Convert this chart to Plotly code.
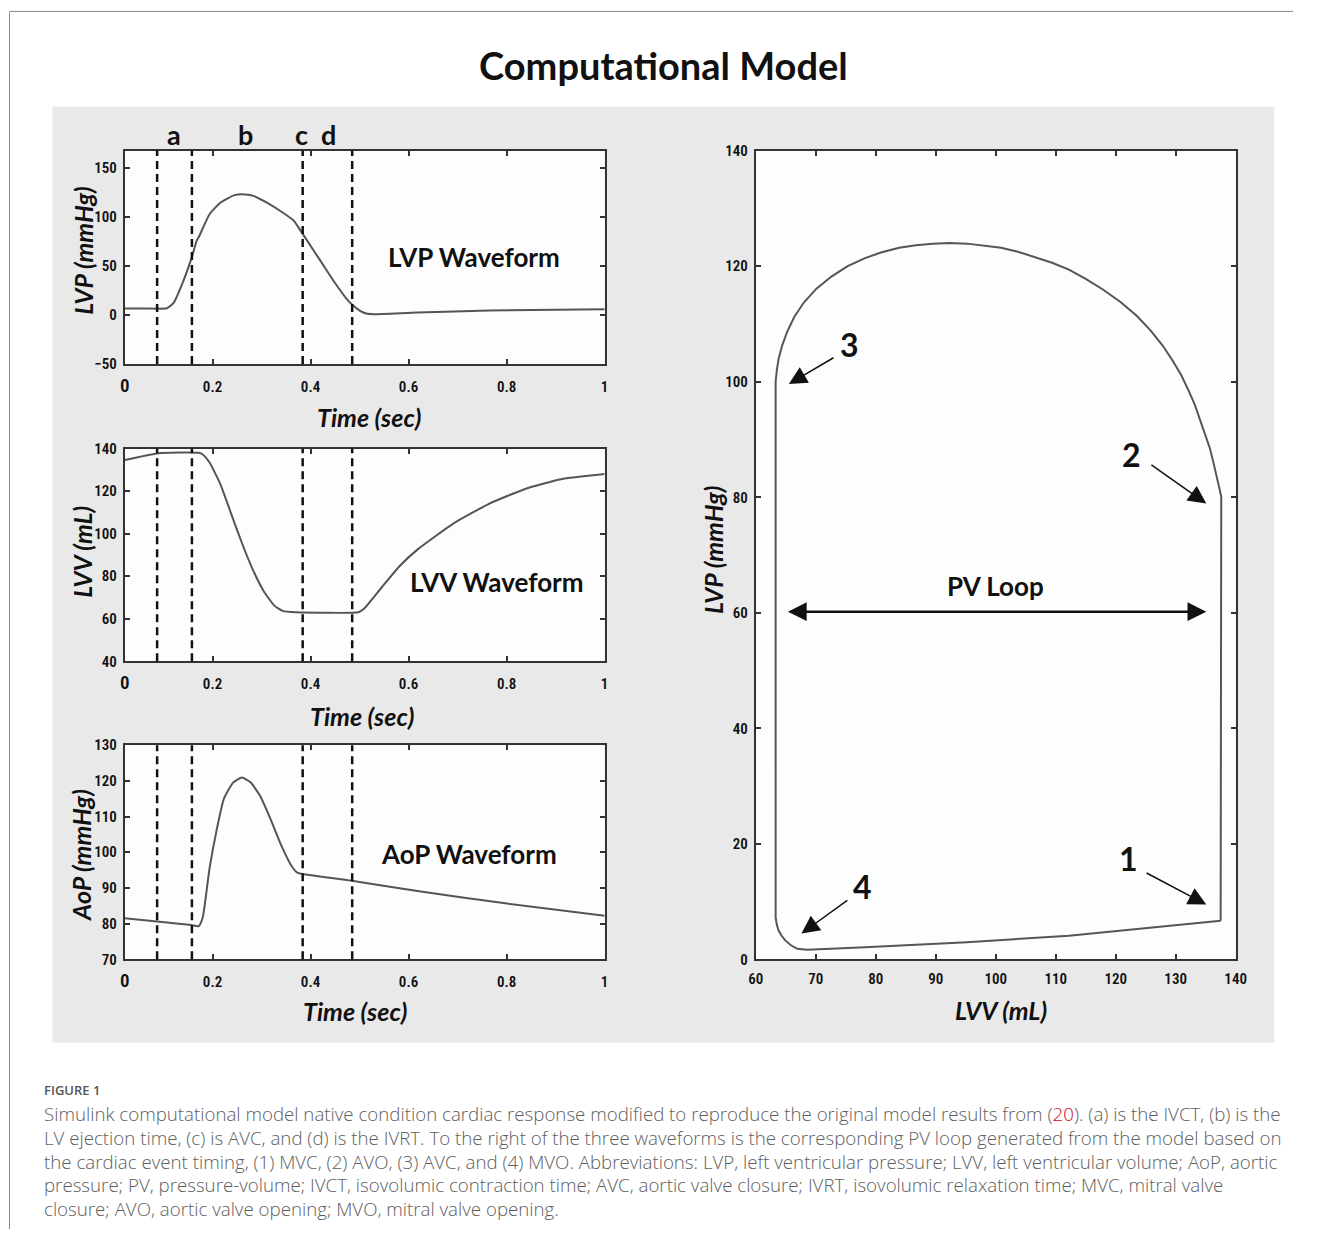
import plotly.graph_objects as go

# page is 1320x1254; the browser's default 8px body margin surrounds the figure
PAGE_MARGIN = 8
W, H = 1320 - 2 * PAGE_MARGIN, 1254 - 2 * PAGE_MARGIN

# ---------------- data ----------------
time_axis_start = 0.021
time_tick_vals = [0.021, 0.2, 0.4, 0.6, 0.8, 1.0]
time_tick_text = ['<span style="font-size:19px">0</span>', "0.2", "0.4", "0.6", "0.8", "1"]

t_lvp = [0.021, 0.060, 0.107, 0.121, 0.139, 0.157, 0.168, 0.172, 0.194, 0.216, 0.245,
         0.267, 0.285, 0.311, 0.340, 0.366, 0.373, 0.384, 0.406, 0.428, 0.450, 0.472,
         0.484, 0.501, 0.516, 0.531, 0.618, 0.765, 1.0]
lvp = [6.7, 6.8, 7.0, 12.7, 32.8, 57.9, 76.3, 79.7, 103.0, 114.8, 122.5,
       123.2, 121.5, 114.8, 105.8, 96.4, 91.4, 83.0, 66.3, 49.5, 32.8, 17.7,
       11.0, 4.4, 1.3, 1.0, 2.7, 4.7, 6.0]

t_lvv = [0.021, 0.087, 0.172, 0.180, 0.194, 0.216, 0.238, 0.260, 0.282, 0.304, 0.326,
         0.344, 0.370, 0.498, 0.509, 0.545, 0.582, 0.618, 0.692, 0.765, 0.838, 0.911, 1.0]
lvv = [134.6, 137.7, 138.0, 137.2, 133.4, 123.3, 109.4, 95.6, 83.2, 73.2, 66.2,
       63.6, 63.1, 63.1, 64.7, 74.7, 84.8, 92.5, 104.8, 114.1, 121.0, 125.6, 128.0]

t_aop = [0.021, 0.107, 0.157, 0.172, 0.180, 0.194, 0.209, 0.223, 0.242, 0.260, 0.278,
         0.297, 0.318, 0.340, 0.362, 0.373, 0.384, 0.484, 0.618, 0.801, 1.0]
aop = [81.5, 80.3, 79.6, 79.3, 81.7, 95.5, 106.6, 114.9, 119.5, 120.9, 119.5,
       115.8, 109.4, 102.0, 96.0, 94.3, 93.9, 92.0, 89.1, 85.6, 82.2]

# PV loop, traced around from mitral valve closure (bottom right)
pv_volume = [137.5, 137.6, 137.3, 137.0, 136.7, 136.3, 135.7, 134.9, 134.1, 133.2, 132.1,
             130.9, 129.4, 127.8, 125.8, 123.5, 120.8, 117.8, 115.0, 112.2, 109.4, 106.5,
             103.7, 100.9, 98.0, 95.2, 92.3, 89.5, 86.7, 83.9, 81.0, 78.2, 75.3, 72.6,
             70.1, 68.0, 66.4, 65.2, 64.4, 63.8, 63.5, 63.3, 63.3, 63.5, 63.8, 64.3, 64.9,
             65.8, 66.9, 68.6, 78.2, 95.2, 112.2, 129.1, 137.5]
pv_pressure = [6.7, 80.1, 81.5, 83.0, 84.5, 86.0, 88.5, 91.0, 93.5, 96.0, 98.6,
               101.2, 103.8, 106.3, 108.9, 111.4, 113.8, 116.0, 117.8, 119.4, 120.6, 121.6,
               122.5, 123.2, 123.6, 123.9, 124.0, 123.9, 123.6, 123.2, 122.4, 121.4, 120.0, 118.2,
               116.1, 113.7, 111.2, 108.6, 106.3, 104.0, 102.0, 100.0, 7.3, 6.0, 5.0, 4.1, 3.3,
               2.5, 1.85, 1.7, 2.1, 3.0, 4.1, 5.8, 6.7]

event_times = [0.087, 0.158, 0.384, 0.485]
event_labels = ["a", "b", "c", "d"]
event_label_times = [0.121, 0.267, 0.382, 0.437]

lvp_ticks = [-50, 0, 50, 100, 150]
lvv_ticks = [40, 60, 80, 100, 120, 140]
aop_ticks = [70, 80, 90, 100, 110, 120, 130]
pv_x_ticks = [60, 70, 80, 90, 100, 110, 120, 130, 140]
pv_y_ticks = [0, 20, 40, 60, 80, 100, 120, 140]

# PV loop markers: label, text position (V, P), arrow tail (V, P), arrow tip (V, P)
pv_markers = [
    ("1", (122.1, 17.5), (124.9, 15.1), (135.1, 9.5)),
    ("2", (122.7, 87.4), (125.7, 85.8), (135.1, 78.9)),
    ("3", (75.6, 106.4), (73.2, 104.3), (65.5, 99.6)),
    ("4", (77.8, 12.7), (75.5, 10.4), (67.6, 4.5)),
]

caption_lines = [
    "Simulink computational model native condition cardiac response modified to reproduce the original model results from (<span style='color:#d0021b'>20</span>). (a) is the IVCT, (b) is the",
    "LV ejection time, (c) is AVC, and (d) is the IVRT. To the right of the three waveforms is the corresponding PV loop generated from the model based on",
    "the cardiac event timing, (1) MVC, (2) AVO, (3) AVC, and (4) MVO. Abbreviations: LVP, left ventricular pressure; LVV, left ventricular volume; AoP, aortic",
    "pressure; PV, pressure-volume; IVCT, isovolumic contraction time; AVC, aortic valve closure; IVRT, isovolumic relaxation time; MVC, mitral valve",
    "closure; AVO, aortic valve opening; MVO, mitral valve opening.",
]

# ---------------- layout helpers (page pixel -> paper fraction) ----------------
def px_x(p):
    return (p - PAGE_MARGIN) / W


def px_y(p):
    return 1 - (p - PAGE_MARGIN) / H


LBL = "Lato, 'Open Sans', sans-serif"
TICKF = dict(family="'Liberation Sans Narrow', 'Roboto Condensed', Roboto, sans-serif", size=15,
             color="#111111", weight=600)
FRAME = "#333333"
CURVE = "#555555"

left_dom = [px_x(126.5), px_x(613.4)]
dom_lvp = [px_y(368.3), px_y(151.7)]
dom_lvv = [px_y(670), px_y(454)]
dom_aop = [px_y(972.3), px_y(755)]
pv_xdom = [px_x(766.9), px_x(1253.8)]
pv_ydom = [px_y(972.5), px_y(151.7)]


def xax(domain, anchor, rng, tv, tt, standoff):
    return dict(domain=domain, anchor=anchor, range=rng, tickvals=tv, ticktext=tt,
                showline=True, mirror="ticks", linecolor=FRAME, linewidth=2,
                ticks="inside", ticklen=5, tickwidth=1.5, tickcolor=FRAME,
                showgrid=False, zeroline=False, tickfont=TICKF,
                ticklabelstandoff=standoff, fixedrange=True)


def yax(domain, anchor, rng, tv, standoff=3):
    return dict(domain=domain, anchor=anchor, range=rng, tickvals=tv,
                showline=True, mirror="ticks", linecolor=FRAME, linewidth=2,
                ticks="inside", ticklen=5, tickwidth=1.5, tickcolor=FRAME,
                showgrid=False, zeroline=False, tickfont=TICKF,
                ticklabelstandoff=standoff, fixedrange=True)


fig = go.Figure()
line_style = dict(color=CURVE, width=2, shape="spline", smoothing=0.5)
fig.add_trace(go.Scatter(x=t_lvp, y=lvp, mode="lines", line=line_style, xaxis="x", yaxis="y", showlegend=False))
fig.add_trace(go.Scatter(x=t_lvv, y=lvv, mode="lines", line=line_style, xaxis="x2", yaxis="y2", showlegend=False))
fig.add_trace(go.Scatter(x=t_aop, y=aop, mode="lines", line=line_style, xaxis="x3", yaxis="y3", showlegend=False))
fig.add_trace(go.Scatter(x=pv_volume, y=pv_pressure, mode="lines",
                         line=dict(color=CURVE, width=2),
                         xaxis="x4", yaxis="y4", showlegend=False))

shapes = [
    # grey picture panel
    dict(type="rect", xref="paper", yref="paper", x0=px_x(53), x1=px_x(1293), y0=px_y(1057), y1=px_y(107),
         fillcolor="#e9e9e9", line=dict(width=0), layer="below"),
    # outer thin frame
    dict(type="line", xref="paper", yref="paper", x0=px_x(10), x1=1, y0=px_y(10.5), y1=px_y(10.5),
         line=dict(color="#8a8a8a", width=1)),
    dict(type="line", xref="paper", yref="paper", x0=px_x(9.5), x1=px_x(9.5), y0=0, y1=px_y(10.5),
         line=dict(color="#8a8a8a", width=1)),
]
# white plotting areas
for xr, yr in [("x", "y"), ("x2", "y2"), ("x3", "y3"), ("x4", "y4")]:
    shapes.append(dict(type="rect", xref=xr + " domain", yref=yr + " domain", x0=0, x1=1, y0=0, y1=1,
                       fillcolor="#fdfdfd", line=dict(width=0), layer="below"))
for xr, yr in [("x", "y"), ("x2", "y2"), ("x3", "y3")]:
    for t in event_times:
        shapes.append(dict(type="line", xref=xr, yref=yr + " domain", x0=t, x1=t, y0=0, y1=1,
                           line=dict(color="#111111", width=2.5, dash="8px,5px")))

ann = []


def paper_text(text, x, y, font, angle=0, xanchor="center"):
    ann.append(dict(text=text, xref="paper", yref="paper", x=px_x(x), y=px_y(y), showarrow=False,
                    xanchor=xanchor, yanchor="middle", textangle=angle, font=font))


paper_text("<b>Computational Model</b>", 673, 65, dict(family=LBL, size=38, color="#111"))
for lab, t in zip(event_labels, event_label_times):
    ann.append(dict(text="<b>%s</b>" % lab, xref="x", yref="paper", x=t, y=px_y(135),
                    xanchor="center", yanchor="middle",
                    showarrow=False, font=dict(family=LBL, size=27, color="#111")))

wf = dict(family=LBL, size=26, color="#111")
for txt, xr, yr, x, y in [("<b>LVP Waveform</b>", "x", "y", 0.734, 59),
                          ("<b>LVV Waveform</b>", "x2", "y2", 0.780, 77.5),
                          ("<b>AoP Waveform</b>", "x3", "y3", 0.724, 99.6),
                          ("<b>PV Loop</b>", "x4", "y4", 100, 64.7)]:
    ann.append(dict(text=txt, xref=xr, yref=yr, x=x, y=y, showarrow=False,
                    xanchor="center", yanchor="middle", font=wf))

# axis titles
titlef = dict(family=LBL, size=25, color="#111", style="italic", weight="bold")
for txt, x, y in [("Time (sec)", 374.4, 421.7), ("Time (sec)", 367, 725), ("Time (sec)", 360, 1025),
                  ("LVV (mL)", 1015.5, 1023.3)]:
    paper_text(txt, x, y, titlef)
for txt, x, y in [("LVP (mmHg)", 84.4, 253), ("LVV (mL)", 83.6, 558.3), ("AoP (mmHg)", 81.8, 866.7),
                  ("LVP (mmHg)", 722.7, 556.7)]:
    paper_text(txt, x, y, titlef, angle=-90)

# PV loop markers
for lab, tp, tail, tip in pv_markers:
    ann.append(dict(text="<b>%s</b>" % lab, xref="x4", yref="y4", x=tp[0], y=tp[1], showarrow=False,
                    xanchor="center", yanchor="middle", font=dict(family=LBL, size=32, color="#111")))
    ann.append(dict(text="", xref="x4", yref="y4", axref="x4", ayref="y4", x=tip[0], y=tip[1],
                    ax=tail[0], ay=tail[1], showarrow=True, arrowhead=2, arrowsize=2.4,
                    arrowwidth=1.5, arrowcolor="#111", standoff=0, startstandoff=0))
# PV loop double arrow (spans the loop width at LVP = 60)
ann.append(dict(text="", xref="x4", yref="y4", axref="x4", ayref="y4", x=135.1, y=60.2, ax=65.1, ay=60.2,
                showarrow=True, arrowhead=2, startarrowhead=2, arrowside="end+start",
                arrowsize=1.5, startarrowsize=1.5, arrowwidth=2.5, arrowcolor="#111"))

# caption
capf = dict(family="'Open Sans', Lato, sans-serif", size=18.7, color="#5e5e5e", weight=300)
paper_text("FIGURE 1", 43, 1105, dict(family="'Open Sans', Lato, sans-serif", size=13, color="#555", weight=600),
           xanchor="left")
for i, line in enumerate(caption_lines):
    paper_text(line, 42, 1129 + 24 * i, capf, xanchor="left")

fig.update_layout(
    width=W, height=H, margin=dict(l=0, r=0, t=0, b=0),
    paper_bgcolor="white", plot_bgcolor="#fdfdfd", showlegend=False,
    xaxis=xax(left_dom, "y", [time_axis_start, 1.0], time_tick_vals, time_tick_text, 8),
    yaxis=yax(dom_lvp, "x", [-50, 168], lvp_ticks),
    xaxis2=xax(left_dom, "y2", [time_axis_start, 1.0], time_tick_vals, time_tick_text, 8),
    yaxis2=yax(dom_lvv, "x2", [40, 140], lvv_ticks),
    xaxis3=xax(left_dom, "y3", [time_axis_start, 1.0], time_tick_vals, time_tick_text, 8),
    yaxis3=yax(dom_aop, "x3", [70, 130], aop_ticks),
    xaxis4=xax(pv_xdom, "y4", [60, 140], pv_x_ticks, [str(v) for v in pv_x_ticks], 5),
    yaxis4=yax(pv_ydom, "x4", [0, 140], pv_y_ticks),
    shapes=shapes, annotations=ann,
)

fig.write_html("out.html")
